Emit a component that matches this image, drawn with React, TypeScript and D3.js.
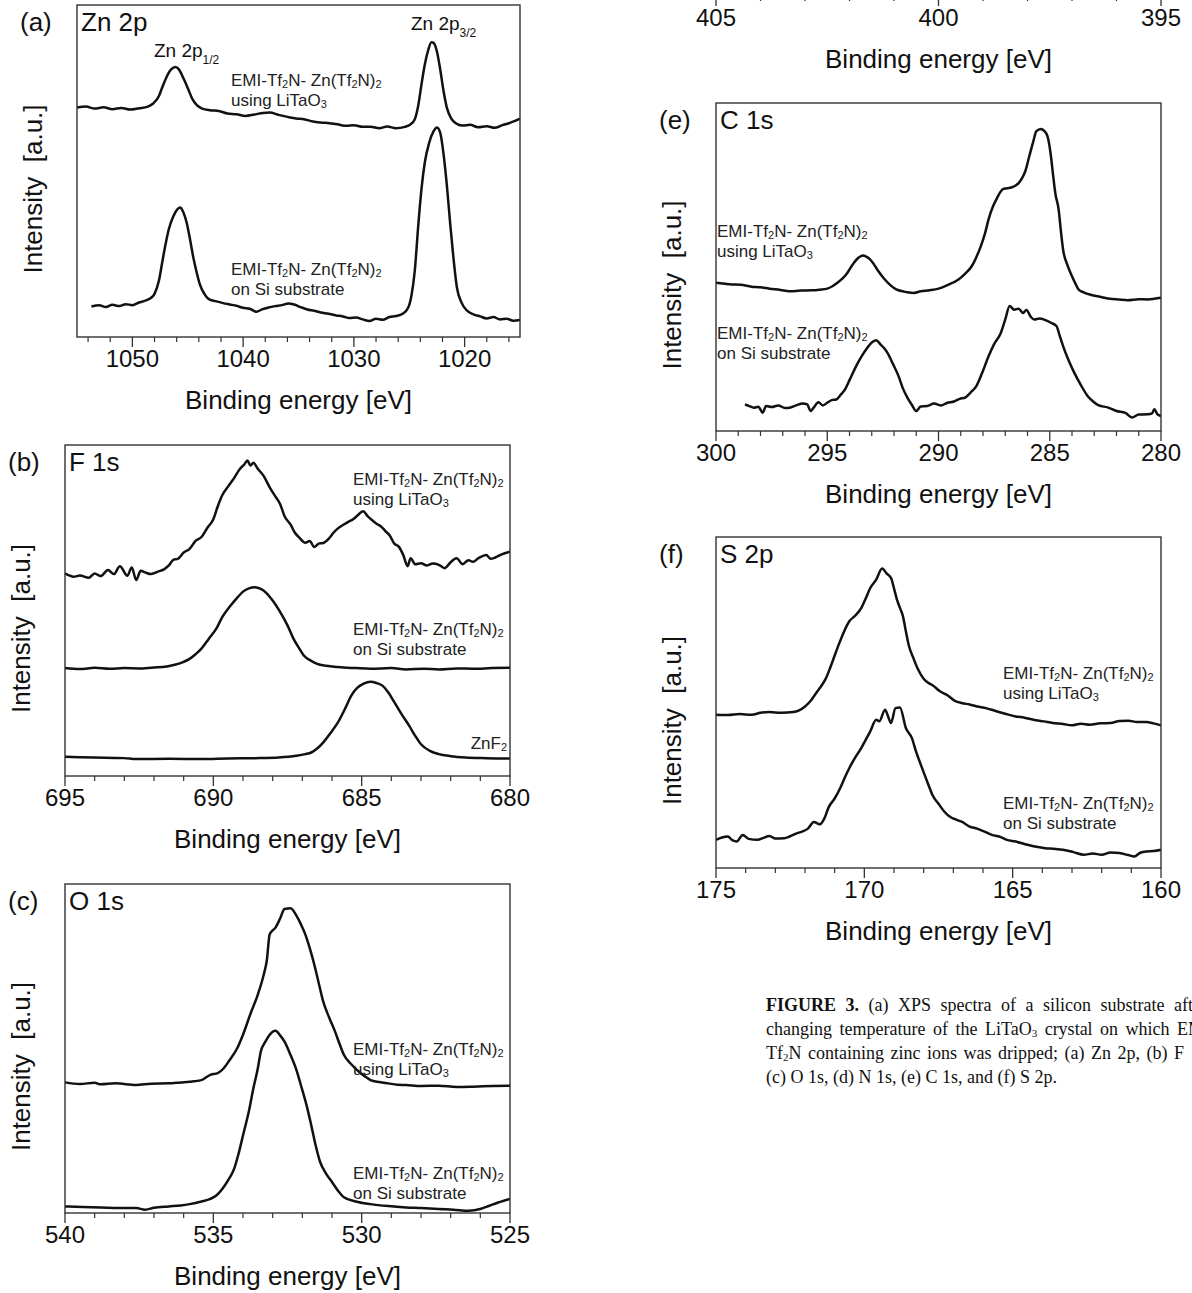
import React from 'react';
import * as d3 from 'd3';

type Pt = [number, number]; // [binding energy eV, intensity a.u.]

// (a) Zn 2p
const zn2pLiTaO3: Pt[] = [
  [1055.0, 69.1], [1054.2, 69.4], [1053.4, 68.8], [1052.6, 69.2], [1051.8, 68.6], [1051.0, 69.0], [1050.2, 68.5],
  [1049.4, 68.9], [1048.6, 69.4], [1048.1, 70.4], [1047.6, 72.6], [1047.3, 75.2], [1046.9, 78.4], [1046.5, 80.6],
  [1046.1, 81.3], [1045.8, 80.6], [1045.4, 78.0], [1045.0, 75.0], [1044.6, 71.8], [1044.2, 69.9], [1043.7, 68.8],
  [1043.0, 68.3], [1042.2, 68.1], [1041.4, 67.3], [1040.6, 67.1], [1039.8, 66.6], [1039.0, 67.0], [1038.2, 67.5],
  [1037.6, 67.6], [1036.8, 66.9], [1036.0, 66.3], [1035.2, 65.8], [1034.5, 65.6], [1033.7, 64.9], [1033.0, 64.6],
  [1032.2, 64.4], [1031.5, 64.1], [1030.7, 63.6], [1030.0, 63.8], [1029.2, 63.3], [1028.5, 63.3], [1027.7, 62.9],
  [1027.0, 63.4], [1026.2, 62.9], [1025.4, 63.3], [1024.9, 64.0], [1024.5, 65.6], [1024.2, 69.5], [1023.9, 76.0],
  [1023.6, 82.0], [1023.3, 86.3], [1023.0, 88.8], [1022.8, 88.6], [1022.5, 86.0], [1022.2, 80.5], [1021.9, 74.0],
  [1021.6, 69.0], [1021.2, 65.8], [1020.8, 64.4], [1020.2, 63.7], [1019.5, 63.9], [1018.8, 63.2], [1018.0, 63.5],
  [1017.3, 63.0], [1016.6, 63.8], [1016.0, 64.4], [1015.5, 65.0], [1015.0, 65.8],
];
const zn2pSi: Pt[] = [
  [1053.7, 9.2], [1053.0, 9.6], [1052.4, 9.0], [1051.8, 9.7], [1051.2, 9.3], [1050.6, 9.9], [1050.0, 9.6],
  [1049.4, 10.4], [1048.9, 10.9], [1048.4, 11.6], [1048.0, 13.0], [1047.6, 17.0], [1047.3, 22.6], [1047.0, 28.0],
  [1046.7, 32.6], [1046.3, 36.4], [1045.9, 38.6], [1045.7, 39.0], [1045.4, 37.6], [1045.1, 34.5], [1044.8, 29.5],
  [1044.5, 24.0], [1044.2, 19.5], [1043.9, 15.8], [1043.5, 13.0], [1043.1, 11.4], [1042.5, 10.8], [1041.8, 10.2],
  [1041.2, 9.8], [1040.6, 9.4], [1040.0, 8.8], [1039.4, 8.5], [1038.8, 7.6], [1038.3, 8.3], [1037.7, 8.9],
  [1037.1, 9.3], [1036.5, 9.6], [1035.9, 10.1], [1035.4, 9.8], [1034.8, 9.0], [1034.2, 8.3], [1033.6, 7.9],
  [1033.0, 7.4], [1032.3, 7.0], [1031.6, 6.5], [1031.0, 6.2], [1030.4, 5.7], [1029.8, 5.9], [1029.2, 5.3],
  [1028.6, 4.8], [1028.0, 5.5], [1027.4, 5.2], [1026.8, 6.0], [1026.2, 6.3], [1025.6, 7.0], [1025.1, 8.8],
  [1024.8, 12.5], [1024.5, 20.0], [1024.2, 33.0], [1023.9, 44.5], [1023.6, 52.5], [1023.2, 58.5], [1022.8, 62.0],
  [1022.5, 63.1], [1022.2, 61.5], [1021.9, 55.0], [1021.6, 45.5], [1021.3, 34.0], [1021.0, 23.5], [1020.7, 15.0],
  [1020.3, 10.5], [1019.8, 8.0], [1019.2, 6.8], [1018.6, 6.2], [1018.0, 5.6], [1017.4, 6.0], [1016.8, 5.3],
  [1016.2, 5.5], [1015.6, 4.9], [1015.0, 5.1],
];
const zn2pTicks = [1050, 1040, 1030, 1020];

// (b) F 1s
const f1sLiTaO3: Pt[] = [
  [695.0, 61.2], [694.7, 60.2], [694.5, 60.6], [694.2, 59.9], [694.0, 61.2], [693.8, 60.4], [693.55, 62.2],
  [693.35, 61.0], [693.15, 63.4], [692.9, 60.5], [692.75, 63.0], [692.6, 59.2], [692.45, 62.0], [692.3, 61.5],
  [692.1, 61.0], [691.85, 61.8], [691.65, 62.5], [691.5, 63.6], [691.35, 65.3], [691.2, 65.6], [691.0, 67.5],
  [690.8, 68.6], [690.6, 71.0], [690.4, 72.2], [690.2, 75.0], [690.0, 77.6], [689.85, 81.5], [689.7, 84.8],
  [689.5, 87.5], [689.3, 90.0], [689.1, 92.8], [688.95, 94.2], [688.85, 95.3], [688.75, 93.8], [688.65, 94.6],
  [688.5, 92.8], [688.3, 90.6], [688.1, 87.2], [687.95, 85.0], [687.75, 82.2], [687.6, 78.5], [687.4, 76.0],
  [687.25, 73.5], [687.1, 72.0], [686.9, 70.5], [686.75, 71.0], [686.6, 69.2], [686.45, 70.2], [686.3, 70.4],
  [686.1, 71.8], [685.95, 73.5], [685.8, 74.8], [685.6, 76.0], [685.45, 76.8], [685.3, 77.5], [685.15, 78.6],
  [684.95, 80.0], [684.8, 78.5], [684.65, 77.3], [684.5, 76.2], [684.35, 75.4], [684.2, 74.0], [684.05, 72.6],
  [683.9, 70.2], [683.75, 69.3], [683.6, 66.8], [683.45, 63.4], [683.35, 65.8], [683.2, 64.0], [683.0, 64.3],
  [682.8, 63.6], [682.6, 64.2], [682.4, 63.8], [682.2, 62.8], [682.0, 64.6], [681.8, 65.8], [681.6, 64.0],
  [681.4, 65.2], [681.25, 64.7], [681.05, 65.9], [680.8, 66.8], [680.65, 65.6], [680.5, 66.0], [680.3, 66.9],
  [680.0, 67.8],
];
const f1sSi: Pt[] = [
  [695.0, 32.6], [694.5, 32.3], [694.0, 32.7], [693.5, 32.4], [693.0, 32.6], [692.5, 32.5], [692.0, 32.8],
  [691.7, 32.9], [691.3, 33.6], [691.0, 34.5], [690.8, 35.4], [690.6, 36.8], [690.4, 38.5], [690.15, 41.5],
  [689.9, 44.5], [689.7, 48.0], [689.45, 51.1], [689.2, 53.8], [689.0, 55.7], [688.8, 56.7], [688.6, 57.0],
  [688.4, 56.5], [688.2, 55.2], [688.0, 53.0], [687.75, 49.6], [687.5, 45.5], [687.3, 41.5], [687.1, 38.5],
  [686.95, 36.4], [686.7, 34.8], [686.5, 33.9], [686.2, 33.3], [685.8, 32.9], [685.2, 32.6], [684.7, 32.4],
  [684.0, 32.6], [683.5, 32.2], [682.9, 32.4], [682.4, 32.2], [681.8, 32.5], [681.25, 32.4], [680.6, 32.6],
  [680.0, 32.7],
];
const f1sZnF2: Pt[] = [
  [695.0, 5.8], [694.0, 5.6], [693.0, 5.4], [692.6, 5.1], [691.5, 5.2], [690.4, 5.1], [689.5, 5.3], [688.6, 5.4],
  [687.8, 5.6], [687.2, 6.1], [686.9, 6.6], [686.7, 7.1], [686.5, 8.3], [686.3, 10.1], [686.05, 13.0],
  [685.8, 16.2], [685.55, 20.5], [685.35, 24.3], [685.15, 26.6], [684.95, 27.8], [684.7, 28.5], [684.5, 28.1],
  [684.3, 27.3], [684.1, 25.2], [683.9, 22.3], [683.65, 18.6], [683.4, 15.2], [683.2, 12.2], [683.0, 9.6],
  [682.7, 7.6], [682.4, 6.6], [682.0, 6.0], [681.5, 5.6], [680.8, 5.4], [680.0, 5.3],
];
const f1sTicks = [695, 690, 685, 680];

// (c) O 1s
const o1sLiTaO3: Pt[] = [
  [540.0, 39.7], [539.5, 39.2], [539.0, 39.6], [538.8, 39.1], [538.3, 39.4], [537.6, 38.9], [537.1, 39.3],
  [536.5, 39.4], [536.1, 39.7], [535.8, 39.9], [535.4, 40.4], [535.1, 42.0], [534.85, 42.5], [534.65, 44.0],
  [534.45, 46.5], [534.2, 50.0], [534.0, 54.2], [533.75, 60.5], [533.5, 66.4], [533.3, 72.5], [533.2, 76.6],
  [533.1, 84.7], [532.9, 86.8], [532.75, 89.5], [532.6, 92.4], [532.4, 92.6], [532.2, 90.4], [532.05, 87.8],
  [531.9, 84.7], [531.75, 80.5], [531.6, 75.6], [531.45, 70.0], [531.3, 64.4], [531.1, 59.5], [530.9, 55.2],
  [530.75, 51.5], [530.6, 48.1], [530.35, 45.2], [530.1, 43.0], [529.9, 41.6], [529.7, 40.4], [529.4, 39.8],
  [529.1, 39.4], [528.8, 39.0], [528.5, 38.9], [528.0, 38.6], [527.4, 38.7], [526.8, 38.3], [526.25, 38.4],
  [525.6, 38.6], [525.0, 38.7],
];
const o1sSi: Pt[] = [
  [540.0, 2.0], [539.4, 1.8], [538.8, 1.7], [538.2, 1.5], [537.6, 1.5], [537.3, 1.0], [537.0, 1.6], [536.5, 2.0],
  [536.1, 2.3], [535.8, 2.7], [535.4, 3.5], [535.1, 4.3], [534.9, 5.3], [534.7, 7.3], [534.5, 10.0],
  [534.3, 13.4], [534.15, 18.0], [534.0, 23.6], [533.8, 31.0], [533.65, 37.9], [533.5, 44.0], [533.4, 49.1],
  [533.25, 52.0], [533.1, 54.2], [532.9, 55.4], [532.75, 54.0], [532.6, 52.1], [532.4, 48.1], [532.2, 43.5],
  [532.05, 38.9], [531.85, 32.5], [531.7, 26.7], [531.55, 20.5], [531.4, 15.5], [531.2, 12.0], [531.0, 9.4],
  [530.8, 6.8], [530.6, 4.8], [530.2, 3.5], [529.7, 2.7], [529.1, 2.1], [528.5, 1.7], [528.0, 1.5], [527.4, 1.2],
  [526.9, 1.0], [526.4, 0.7], [526.0, 1.2], [525.7, 2.2], [525.4, 3.2], [525.0, 4.3],
];
const o1sTicks = [540, 535, 530, 525];

// (d) N 1s – only its axis is left in the crop
const n1sTicks = [405, 400, 395];

// (e) C 1s
const c1sLiTaO3: Pt[] = [
  [300.0, 45.2], [299.6, 44.9], [299.3, 44.7], [298.9, 44.6], [298.4, 44.0], [298.0, 43.8], [297.6, 43.4],
  [297.1, 43.0], [296.7, 42.6], [296.2, 42.8], [295.7, 42.9], [295.35, 43.1], [295.0, 43.4], [294.75, 44.2],
  [294.5, 45.4], [294.3, 46.6], [294.1, 48.2], [293.95, 49.8], [293.8, 51.3], [293.6, 52.8], [293.4, 53.5],
  [293.25, 53.2], [293.1, 52.5], [292.9, 50.8], [292.7, 48.7], [292.45, 46.5], [292.2, 44.7], [292.0, 43.6],
  [291.8, 42.9], [291.6, 42.6], [291.4, 42.3], [291.1, 42.1], [290.8, 42.6], [290.4, 42.9], [290.0, 43.4],
  [289.6, 44.5], [289.1, 46.2], [288.8, 48.0], [288.5, 50.3], [288.3, 53.0], [288.1, 56.3], [287.9, 60.5],
  [287.75, 64.5], [287.55, 68.5], [287.4, 70.6], [287.25, 72.5], [287.1, 73.8], [286.9, 74.0], [286.65, 74.4],
  [286.5, 75.0], [286.4, 75.6], [286.25, 77.0], [286.1, 79.2], [285.9, 84.3], [285.75, 88.0], [285.6, 91.4],
  [285.4, 92.1], [285.25, 91.5], [285.1, 89.8], [284.95, 84.0], [284.85, 78.0], [284.75, 72.5], [284.6, 67.5],
  [284.5, 61.0], [284.4, 55.3], [284.2, 50.5], [284.0, 47.2], [283.85, 45.0], [283.7, 43.1], [283.45, 42.2],
  [283.2, 41.6], [282.8, 41.0], [282.3, 40.3], [281.9, 40.1], [281.5, 39.9], [281.0, 40.2], [280.6, 40.1],
  [280.3, 40.3], [280.0, 40.6],
];
const c1sSi: Pt[] = [
  [298.7, 8.1], [298.5, 7.6], [298.3, 7.1], [298.1, 7.4], [297.9, 5.6], [297.75, 7.6], [297.5, 7.3], [297.2, 7.8],
  [296.9, 7.0], [296.7, 7.1], [296.4, 7.8], [296.1, 8.4], [295.9, 8.1], [295.75, 6.1], [295.6, 7.2], [295.4, 8.8],
  [295.2, 7.8], [295.0, 8.6], [294.8, 9.4], [294.6, 9.6], [294.4, 11.0], [294.2, 12.7], [294.0, 15.5],
  [293.7, 19.8], [293.45, 22.8], [293.2, 25.4], [293.0, 27.0], [292.8, 27.7], [292.6, 26.3], [292.45, 25.3],
  [292.3, 23.9], [292.05, 20.5], [291.8, 16.8], [291.6, 13.0], [291.4, 10.2], [291.2, 8.0], [291.0, 6.1],
  [290.8, 7.5], [290.5, 7.6], [290.2, 8.4], [289.9, 7.8], [289.6, 8.6], [289.3, 9.0], [289.05, 9.8],
  [288.8, 10.2], [288.55, 11.8], [288.3, 13.7], [288.05, 17.5], [287.75, 22.8], [287.5, 26.5], [287.2, 29.9],
  [287.0, 34.0], [286.8, 38.1], [286.6, 37.0], [286.4, 37.3], [286.2, 36.0], [286.05, 36.9], [285.85, 34.8],
  [285.7, 34.0], [285.45, 34.3], [285.2, 33.8], [284.95, 33.0], [284.7, 32.0], [284.55, 29.0], [284.4, 25.9],
  [284.15, 21.5], [283.9, 17.8], [283.6, 14.0], [283.3, 10.7], [283.05, 9.0], [282.8, 7.8], [282.4, 7.2],
  [282.0, 6.1], [281.6, 5.5], [281.3, 4.1], [281.0, 5.0], [280.6, 5.1], [280.4, 5.4], [280.3, 6.6],
  [280.15, 5.0], [280.0, 4.6],
];
const c1sTicks = [300, 295, 290, 285, 280];

// (f) S 2p
const s2pLiTaO3: Pt[] = [
  [175.0, 46.3], [174.6, 46.2], [174.2, 46.5], [173.8, 46.3], [173.5, 46.9], [173.2, 47.1], [172.8, 46.9],
  [172.4, 47.1], [172.2, 47.6], [172.0, 48.8], [171.8, 50.6], [171.6, 53.2], [171.45, 55.0], [171.3, 57.2],
  [171.15, 60.5], [171.0, 64.2], [170.85, 67.8], [170.7, 71.1], [170.5, 74.6], [170.3, 76.3], [170.1, 78.6],
  [169.95, 81.5], [169.8, 84.6], [169.6, 87.1], [169.4, 90.5], [169.25, 89.0], [169.1, 87.6], [169.0, 84.5],
  [168.9, 81.1], [168.8, 78.6], [168.7, 76.1], [168.6, 71.5], [168.5, 67.2], [168.35, 63.5], [168.2, 60.2],
  [168.0, 57.2], [167.85, 56.0], [167.7, 55.2], [167.45, 53.4], [167.2, 52.2], [166.95, 50.5], [166.7, 49.8],
  [166.45, 49.4], [166.2, 48.8], [165.9, 48.3], [165.6, 47.5], [165.25, 46.6], [164.9, 45.8], [164.6, 45.4],
  [164.3, 44.8], [163.95, 44.3], [163.65, 43.8], [163.3, 43.5], [163.0, 43.1], [162.7, 43.6], [162.4, 43.3],
  [162.05, 43.7], [161.7, 43.8], [161.4, 44.4], [161.1, 44.5], [160.8, 44.1], [160.5, 44.1], [160.25, 43.7],
  [160.0, 43.1],
];
const s2pSi: Pt[] = [
  [175.0, 8.5], [174.8, 9.2], [174.6, 9.5], [174.45, 8.4], [174.3, 8.0], [174.1, 10.0], [173.9, 8.8],
  [173.6, 8.5], [173.4, 9.1], [173.2, 9.7], [173.0, 8.9], [172.7, 9.0], [172.5, 9.6], [172.3, 10.4],
  [172.1, 11.0], [171.9, 11.9], [171.7, 13.9], [171.5, 13.2], [171.35, 14.9], [171.2, 18.4], [171.0, 21.0],
  [170.8, 24.4], [170.65, 27.5], [170.5, 30.3], [170.3, 33.5], [170.1, 36.3], [169.95, 38.8], [169.8, 41.3],
  [169.6, 44.8], [169.5, 44.3], [169.3, 47.8], [169.2, 45.8], [169.1, 43.8], [168.95, 48.3], [168.8, 48.5],
  [168.6, 42.3], [168.4, 39.3], [168.25, 35.0], [168.1, 31.3], [167.85, 25.4], [167.7, 22.0], [167.5, 19.4],
  [167.3, 17.0], [167.1, 15.4], [166.9, 14.6], [166.7, 13.9], [166.45, 12.5], [166.2, 11.9], [165.95, 11.0],
  [165.7, 10.0], [165.45, 9.5], [165.2, 8.5], [164.9, 8.0], [164.5, 7.0], [164.2, 6.4], [163.9, 6.0],
  [163.6, 5.8], [163.3, 5.5], [162.95, 4.8], [162.6, 4.0], [162.3, 4.4], [162.0, 4.0], [161.7, 4.7],
  [161.4, 4.5], [161.1, 3.9], [160.9, 3.5], [160.7, 4.6], [160.5, 5.0], [160.25, 5.1], [160.0, 5.5],
];
const s2pTicks = [175, 170, 165, 160];

const SANS = '"Liberation Sans", Arial, Helvetica, sans-serif';
const SERIF = '"Liberation Serif", "Times New Roman", serif';
const INK = '#111';

type Box = { l: number; r: number; t: number; b: number };

// a text part is either plain text or a one-item array holding a subscript
type Part = string | [string];

const Rich = ({ parts, sub = 11 }: { parts: Part[]; sub?: number }) => (
  <>
    {parts.map((p, i) =>
      typeof p === 'string'
        ? <tspan key={i} dy={i > 0 && typeof parts[i - 1] !== 'string' ? -2 : 0}>{p}</tspan>
        : <tspan key={i} fontSize={sub} dy={2}>{p[0]}</tspan>
    )}
  </>
);

const compound: Part[] = ['EMI-Tf', ['2'], 'N- Zn(Tf', ['2'], 'N)', ['2']];
const onLiTaO3: Part[] = ['using LiTaO', ['3']];

// two-line sample label
const SampleLabel = ({ x, y, lit }: { x: number; y: number; lit: boolean }) => (
  <g fontFamily={SANS} fontSize={17} fill="#222">
    <text x={x} y={y}><Rich parts={compound} /></text>
    <text x={x} y={y + 20}>{lit ? <Rich parts={onLiTaO3} /> : 'on Si substrate'}</text>
  </g>
);

type PanelProps = {
  box: Box;
  domain: [number, number];
  ticks: number[];
  minorStep: number;
  series?: Pt[][];
  tag?: string;
  name?: string;
  axisOnly?: boolean;
  children?: React.ReactNode;
};

const Panel = ({ box, domain, ticks, minorStep, series = [], tag, name, axisOnly, children }: PanelProps) => {
  const x = d3.scaleLinear().domain(domain).range([box.l, box.r]);
  const y = d3.scaleLinear().domain([0, 100]).range([box.b, box.t]);
  const line = d3.line<Pt>().x(d => x(d[0])).y(d => y(d[1])).curve(d3.curveMonotoneX);
  const lo = Math.min(domain[0], domain[1]);
  const hi = Math.max(domain[0], domain[1]);
  const minor = d3.range(Math.ceil(lo / minorStep) * minorStep, hi + 1e-6, minorStep)
    .filter(v => !ticks.some(t => Math.abs(t - v) < 1e-6));
  const cx = (box.l + box.r) / 2;
  const cy = (box.t + box.b) / 2;

  return (
    <g fontFamily={SANS}>
      {series.map((s, i) => (
        <path key={i} d={line(s) ?? ''} fill="none" stroke={INK} strokeWidth={2.5} strokeLinejoin="round" />
      ))}
      {!axisOnly && (
        <rect x={box.l} y={box.t} width={box.r - box.l} height={box.b - box.t}
          fill="none" stroke="#333" strokeWidth={1.4} />
      )}
      {minor.map(v => (
        <line key={'m' + v} x1={x(v)} x2={x(v)} y1={box.b} y2={box.b + 5} stroke="#333" strokeWidth={1.2} />
      ))}
      {ticks.map(v => (
        <g key={'t' + v}>
          <line x1={x(v)} x2={x(v)} y1={box.b} y2={box.b + 10} stroke="#333" strokeWidth={1.3} />
          <text x={x(v)} y={box.b + 30} textAnchor="middle" fontSize={24} fill={INK}>{v}</text>
        </g>
      ))}
      <text x={cx} y={box.b + 72} textAnchor="middle" fontSize={26} fill={INK}>Binding energy [eV]</text>
      {!axisOnly && (
        <>
          <text transform={`translate(${box.l - 35},${cy + 18}) rotate(-90)`} textAnchor="middle"
            fontSize={26} fill={INK} style={{ whiteSpace: 'pre' }}>{'Intensity  [a.u.]'}</text>
          <text x={box.l - 57} y={box.t + 26} fontSize={26} fill={INK}>{tag}</text>
          <text x={box.l + 4} y={box.t + 26} fontSize={26} fill={INK}>{name}</text>
        </>
      )}
      {children}
    </g>
  );
};

const boxA: Box = { l: 77, r: 520, t: 5, b: 337 };
const boxB: Box = { l: 65, r: 510, t: 445, b: 776 };
const boxC: Box = { l: 65, r: 510, t: 884, b: 1213 };
const boxD: Box = { l: 716, r: 1161, t: -340, b: -4 };
const boxE: Box = { l: 716, r: 1161, t: 103, b: 431 };
const boxF: Box = { l: 716, r: 1161, t: 537, b: 868 };

const App = () => {
  return (
    <svg width={1192} height={1293} viewBox="0 0 1192 1293"
      style={{ position: 'absolute', left: 0, top: 0, background: '#fff', overflow: 'hidden' }}>
      <rect width={1192} height={1293} fill="#fff" />

      <Panel box={boxA} domain={[1055, 1015]} ticks={zn2pTicks} minorStep={2}
        series={[zn2pLiTaO3, zn2pSi]} tag="(a)" name="Zn 2p">
        <text x={154} y={57} fontFamily={SANS} fontSize={19} fill={INK}>
          Zn 2p<tspan fontSize={12} dy={7}>1/2</tspan>
        </text>
        <text x={411} y={30} fontFamily={SANS} fontSize={19} fill={INK}>
          Zn 2p<tspan fontSize={12} dy={7}>3/2</tspan>
        </text>
        <SampleLabel x={231} y={86} lit />
        <SampleLabel x={231} y={275} lit={false} />
      </Panel>

      <Panel box={boxB} domain={[695, 680]} ticks={f1sTicks} minorStep={1}
        series={[f1sLiTaO3, f1sSi, f1sZnF2]} tag="(b)" name="F 1s">
        <SampleLabel x={353} y={485} lit />
        <SampleLabel x={353} y={635} lit={false} />
        <text x={507} y={749} textAnchor="end" fontFamily={SANS} fontSize={17} fill="#222">
          <Rich parts={['ZnF', ['2']]} />
        </text>
      </Panel>

      <Panel box={boxC} domain={[540, 525]} ticks={o1sTicks} minorStep={1}
        series={[o1sLiTaO3, o1sSi]} tag="(c)" name="O 1s">
        <SampleLabel x={353} y={1055} lit />
        <SampleLabel x={353} y={1179} lit={false} />
      </Panel>

      <Panel box={boxD} domain={[405, 395]} ticks={n1sTicks} minorStep={1} axisOnly />

      <Panel box={boxE} domain={[300, 280]} ticks={c1sTicks} minorStep={1}
        series={[c1sLiTaO3, c1sSi]} tag="(e)" name="C 1s">
        <SampleLabel x={717} y={237} lit />
        <SampleLabel x={717} y={339} lit={false} />
      </Panel>

      <Panel box={boxF} domain={[175, 160]} ticks={s2pTicks} minorStep={1}
        series={[s2pLiTaO3, s2pSi]} tag="(f)" name="S 2p">
        <SampleLabel x={1003} y={679} lit />
        <SampleLabel x={1003} y={809} lit={false} />
      </Panel>

      {/* caption, cut at the right edge as in the source page */}
      <g fontFamily={SERIF} fontSize={18} fill="#111" style={{ whiteSpace: 'pre' }}>
        <text x={766} y={1011} wordSpacing={5}>
          <tspan fontWeight="bold">FIGURE 3.</tspan>
          <tspan>{'  (a) XPS spectra of a silicon substrate after'}</tspan>
        </text>
        <text x={766} y={1035} wordSpacing={3}>
          <Rich parts={['changing temperature of the LiTaO', ['3'], ' crystal on which EMI-']} />
        </text>
        <text x={766} y={1059} wordSpacing={2}>
          <Rich parts={['Tf', ['2'], 'N containing zinc ions was dripped; (a) Zn 2p, (b) F 1s,']} />
        </text>
        <text x={766} y={1083}>(c) O 1s, (d) N 1s, (e) C 1s, and (f) S 2p.</text>
      </g>
    </svg>
  );
};

export default App;
